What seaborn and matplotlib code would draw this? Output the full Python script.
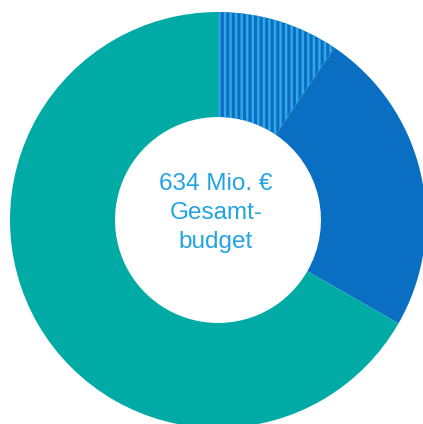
import matplotlib
matplotlib.use("Agg")
import matplotlib.pyplot as plt
import seaborn as sns

# Data (Mio. €)
categories = ["Segment A", "Segment B", "Segment C"]
values = [60, 151, 423]
center_lines = ["634 Mio. €", "Gesamt-", "budget"]

sns.set_theme(style="white")
plt.rcParams['font.family'] = ['Liberation Sans', 'DejaVu Sans']
plt.rcParams['hatch.linewidth'] = 1.7

colors = ["#0a6fc2", "#0a6fc2", "#00aba6"]
stripe = "#31a9e6"
text_color = "#22a3e3"

W, H = 423, 424
fig = plt.figure(figsize=(W / 100, H / 100), dpi=100)
cx, cy, R = 218, 220, 208
ax = fig.add_axes([(cx - R) / W, (H - cy - R) / H, 2 * R / W, 2 * R / H])

wedges, _ = ax.pie(values, colors=colors, startangle=90, counterclock=False,
                   radius=1.0, wedgeprops=dict(width=0.505, linewidth=0))
wedges[0].set_hatch("|||")
wedges[0].set_edgecolor(stripe)
wedges[0].set_linewidth(0)

ax.set_xlim(-1, 1)
ax.set_ylim(-1, 1)
ax.set_aspect("equal")
ax.axis("off")

ax.text(-0.01, 0.035, "\n".join(center_lines), ha="center", va="center",
        fontsize=17.5, color=text_color, linespacing=1.4)

fig.savefig("out.png", dpi=100)
